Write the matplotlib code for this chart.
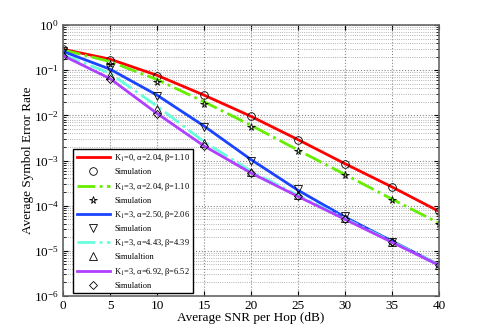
import matplotlib.pyplot as plt
from matplotlib.ticker import NullFormatter

snr = [0, 5, 10, 15, 20, 25, 30, 35, 40]

# analytical curves
ser_k0 = [0.29, 0.175, 0.077, 0.028, 0.0095, 0.0029, 8.5e-4, 2.6e-4, 7.5e-5]
ser_a204 = [0.28, 0.155, 0.062, 0.020, 0.0060, 0.0017, 4.9e-4, 1.4e-4, 4.1e-5]
ser_a250 = [0.26, 0.105, 0.028, 0.0058, 1.05e-3, 2.2e-4, 5.6e-5, 1.65e-5, 4.9e-6]
ser_a443 = [0.22, 0.085, 0.016, 0.0026, 5.8e-4, 1.7e-4, 5.2e-5, 1.6e-5, 4.9e-6]
ser_a692 = [0.21, 0.065, 0.011, 0.0021, 5.3e-4, 1.6e-4, 5.0e-5, 1.55e-5, 4.8e-6]

# simulation points
sim_k0 = [0.29, 0.17, 0.075, 0.028, 0.0095, 0.0029, 8.5e-4, 2.6e-4, 7.6e-5]
sim_a204 = [0.28, 0.14, 0.055, 0.018, 0.0055, 0.0016, 4.7e-4, 1.35e-4, 4.0e-5]
sim_a250 = [0.26, 0.11, 0.027, 0.0055, 1.0e-3, 2.3e-4, 6.0e-5, 1.6e-5, 4.9e-6]
sim_a443 = [0.22, 0.08, 0.014, 0.0024, 5.5e-4, 1.7e-4, 5.3e-5, 1.6e-5, 4.9e-6]
sim_a692 = [0.21, 0.065, 0.0105, 0.0021, 5.3e-4, 1.6e-4, 5.0e-5, 1.55e-5, 4.8e-6]

labels = ['K$_1$=0, \u03b1=2.04, \u03b2=1.10',
          'K$_1$=3, \u03b1=2.04, \u03b2=1.10',
          'K$_1$=3, \u03b1=2.50, \u03b2=2.06',
          'K$_1$=3, \u03b1=4.43, \u03b2=4.39',
          'K$_1$=3, \u03b1=6.92, \u03b2=6.52']
sim_labels = ['Simulation', 'Simulation', 'Simulation', 'Simulaltion', 'Simulation']

plt.rcParams['font.family'] = ['Liberation Serif', 'DejaVu Serif']
plt.rcParams['mathtext.fontset'] = 'stix'

fig = plt.figure(figsize=(4.85, 3.33), dpi=100)
ax = fig.add_axes([0.13, 0.111, 0.775, 0.814])

curves = [ser_k0, ser_a204, ser_a250, ser_a443, ser_a692]
sims = [sim_k0, sim_a204, sim_a250, sim_a443, sim_a692]
colors = ['#ff0000', '#66ee00', '#1a44ff', '#66ffdd', '#b040ff']
styles = ['-', '-.', '-', '-.', '-']
markers = ['o', '*', 'v', '^', 'D']
msizes = [5.5, 5.5, 5.5, 5.5, 4.5]

for i in range(5):
    ax.semilogy(snr, curves[i], styles[i], color=colors[i], lw=2, label=labels[i])
    ax.semilogy(snr, sims[i], linestyle='none', marker=markers[i], ms=msizes[i],
                mfc='none', mec='black', mew=0.6, label=sim_labels[i])

ax.set_xlim(0, 40)
ax.set_ylim(1e-6, 1)
ax.set_xticks(range(0, 41, 5))
decades = [10.0 ** e for e in range(-6, 1)]
ax.set_yticks(decades)
ax.set_yticks([d * k for d in decades[:-1] for k in range(2, 10)], minor=True)
ax.yaxis.set_minor_formatter(NullFormatter())
ax.grid(True, which='major', linestyle=':', color='#888888', lw=0.8)
ax.grid(True, which='minor', linestyle=':', color='#999999', lw=0.6)
ax.tick_params(which='both', direction='in', top=True, right=True, labelsize=9.5, pad=3)
for s in ax.spines.values():
    s.set_color('#666666')
    s.set_linewidth(1.2)

ax.set_xlabel('Average SNR per Hop (dB)', fontsize=9.5, labelpad=0)
ax.set_ylabel('Average Symbol Error Rate', fontsize=9.5, labelpad=0)

leg = ax.legend(loc='lower left', bbox_to_anchor=(0.027, 0.011), fontsize=6,
                labelspacing=0.5, handlelength=4.0, handletextpad=0.5,
                borderpad=0.4, fancybox=False, framealpha=1, borderaxespad=0)
leg.get_frame().set_edgecolor('black')
leg.get_frame().set_linewidth(1.0)

fig.savefig('out.png', dpi=100)
